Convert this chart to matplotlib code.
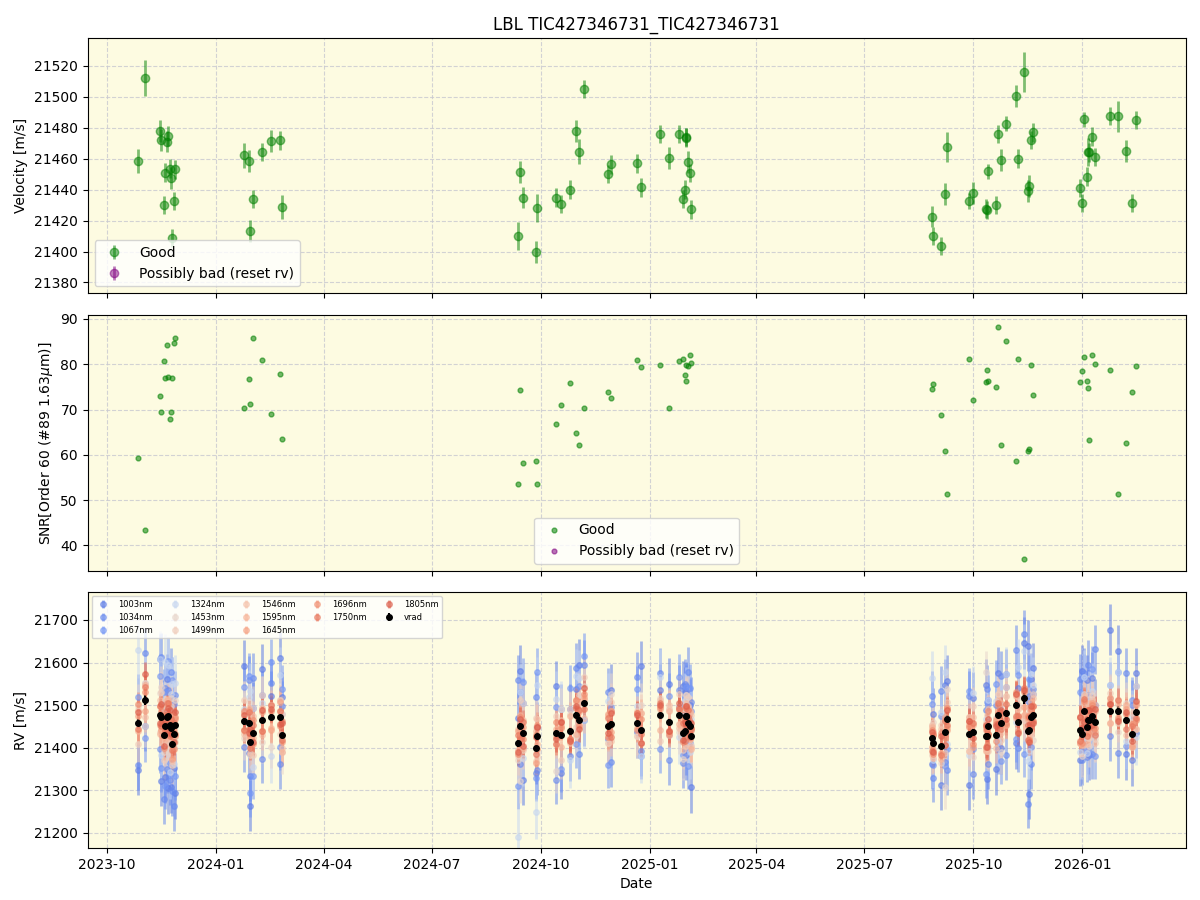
import matplotlib
matplotlib.use("Agg")
import matplotlib.pyplot as plt
import matplotlib.dates as mdates
import numpy as np
import pandas as pd

# epochs (4 observing seasons: 13 + 8 + 25 + 34)
dates = [
    "2023-10-27", "2023-11-02", "2023-11-15", "2023-11-16", "2023-11-18", "2023-11-19",
    "2023-11-21", "2023-11-22", "2023-11-23", "2023-11-24", "2023-11-25", "2023-11-27",
    "2023-11-28",
    "2024-01-25", "2024-01-29", "2024-01-30", "2024-02-01", "2024-02-09", "2024-02-17",
    "2024-02-24", "2024-02-26",
    "2024-09-12", "2024-09-14", "2024-09-16", "2024-09-27", "2024-09-28", "2024-10-14",
    "2024-10-18", "2024-10-26", "2024-10-31", "2024-11-02", "2024-11-07", "2024-11-27",
    "2024-11-29", "2024-12-21", "2024-12-25", "2025-01-10", "2025-01-17", "2025-01-26",
    "2025-01-29", "2025-01-31", "2025-01-31 18:00", "2025-02-01", "2025-02-02",
    "2025-02-04", "2025-02-05",
    "2025-08-27", "2025-08-28", "2025-09-04", "2025-09-07", "2025-09-09", "2025-09-27",
    "2025-10-01", "2025-10-12", "2025-10-12 18:00", "2025-10-13", "2025-10-20",
    "2025-10-22", "2025-10-24", "2025-10-29", "2025-11-06", "2025-11-08", "2025-11-13",
    "2025-11-16", "2025-11-17", "2025-11-19", "2025-11-20", "2025-12-30", "2026-01-01",
    "2026-01-02", "2026-01-05", "2026-01-05 18:00", "2026-01-07", "2026-01-09",
    "2026-01-12", "2026-01-24", "2026-01-31", "2026-02-07", "2026-02-12", "2026-02-15",
]

vrad = [
    21458.5, 21512, 21478, 21472, 21430, 21451, 21471, 21474.4, 21453.5, 21447.3, 21408.8, 21432.6, 21453,
    21462, 21458.5, 21413.4, 21434, 21464.3, 21471.3, 21471.8, 21428.8,
    21410, 21451.3, 21434.8, 21399.5, 21428, 21434.8, 21430.6, 21440, 21477.7, 21464.5, 21505, 21450,
    21456.3, 21457, 21441.4, 21476, 21460.3, 21476, 21434, 21440, 21474, 21473.5, 21458, 21450.6, 21427.3,
    21422.6, 21410, 21403.5, 21437.2, 21467.6, 21432.6, 21437.8, 21427.7, 21426.8, 21451.7, 21430, 21476,
    21459.2, 21482.6, 21500.6, 21460, 21516, 21439, 21442.5, 21472, 21477, 21441.1, 21431.2, 21485.4,
    21448.4, 21464, 21464, 21474.2, 21461, 21487.4, 21487.4, 21465, 21431.2, 21484.8,
]

vrad_err = [
    8, 11.5, 7, 7, 6, 6, 7, 6.5, 6, 7, 6, 6, 6,
    8, 7, 7, 6, 6, 7, 6, 8,
    9, 7, 7, 7, 9, 6, 6, 6, 7, 8, 6, 6, 6, 6, 6, 6, 7, 6, 6, 6, 6, 6, 7, 6, 6,
    7, 6, 6, 7, 9.5, 5, 7, 6, 6, 5, 6, 6, 7, 5, 7, 6, 13, 7, 7, 6, 6, 6, 6, 5, 6, 9, 6, 6, 6, 6, 10, 7, 6, 6,
]

snr = [
    59.3, 43.5, 72.9, 69.4, 80.7, 77.0, 84.3, 77.2, 68.0, 69.4, 77.0, 84.8, 85.7,
    70.3, 76.7, 71.2, 85.7, 81.0, 69.1, 77.8, 63.4,
    53.5, 74.3, 58.2, 58.7, 53.5, 66.9, 70.9, 75.8, 64.9, 62.2, 70.3, 73.8, 72.5, 81.0, 79.4,
    79.9, 70.3, 80.7, 81.2, 77.6, 76.3, 79.9, 79.6, 82.1, 80.3,
    74.5, 75.6, 68.7, 60.9, 51.3, 81.2, 72.0, 76.1, 78.7, 76.3, 74.9, 88.3, 62.2, 85.2, 58.7, 81.2,
    37.0, 60.9, 61.3, 79.9, 73.2, 76.1, 78.5, 81.6, 76.3, 74.7, 63.3, 82.1, 80.1, 78.7, 51.3, 62.5,
    73.8, 79.6,
]

# per-band velocity minus vrad, m/s (read by eye, per season)
wavelengths = [1003, 1034, 1067, 1324, 1453, 1499, 1546, 1595, 1645, 1696, 1750, 1805]
band_err = [60, 58, 55, 65, 50, 45, 35, 32, 30, 28, 28, 30]

off_1003 = ([-110, -60, 130, -150, 70, -120, 90, -170, 40, -140, 110, -80, -160]
            + [130, -70, -150, 60, 120, 50, 140, 90]
            + [60, 130, -110, -60, 20, 110, -90, 50, 60, 130, -40, -30, 80, -20, 150, 60, 90, 20, 110,
               90, 60, -90, 30, 50, -120]
            + [-60, 70, -90, 110, 90, -120, 80, 120, -100, 60, -80, 100, -60, 90, -90, 80, 130, 200,
               -150, 90, 110, -70, 150, -40, 110, 60, -80, 90, 40, 190, 140, -80, -60, 90])
off_1034 = ([-100, 110, -80, 140, -150, 90, -120, 60, -130, 130, -110, -170, 70]
            + [-60, 100, -80, 130, -90, 80, -110, 70]
            + [150, -90, 70, 120, -80, -110, 60, -60, 110, -80, 90, 80, -90, 110, -50, 100, -90, 60, -70,
               110, 70, -80, 120, -40, 80]
            + [100, -80, 130, -70, -120, 90, -100, 60, 110, -90, 70, -80, 110, -100, 130, -60, 150, -170,
               80, -110, 60, 120, -60, 90, -70, 130, 60, -90, 170, -60, -100, 110, 70, -50])
off_1067 = ([60, -90, 90, -120, 100, -140, 60, 130, -90, -110, 150, 70, -120]
            + [80, 110, -120, -100, 60, 130, -70, 110]
            + [-100, 80, 120, -70, 150, 60, -80, 100, -70, 80, 110, -90, 40, 80, -60, -80, 60, 90, -50,
               80, -60, 70, -100, 90, 60]
            + [80, -50, 70, -80, -70, 100, -40, -90, 80, 50, 120, -60, -90, 60, -80, 110, -130, 70, 120,
               -70, 50, 90, -40, 80, 60, -70, 50, 110, -80, 60, 90, -60, 80, 60])
off_1324 = ([170, 40, 130, -90, 60, 150, -60, 120, -110, 80, 140, -70, 100]
            + [30, 60, 120, -80, 40, -90, 100, 50]
            + [-220, 80, -60, -150, 120, 80, 60, -70, 90, 100, -40, 60, 30, 40, -60, 90, -30, -50, 40,
               70, -30, 50, -40, -60, 40]
            + [140, -40, 80, 140, -60, -50, 90, 40, -30, 60, 80, -60, 40, 90, -40, 130, 110, -70, -50,
               100, 70, -50, 40, 80, -60, 40, 50, 60, -30, 60, 90, -50, 40, -60])
off_1453 = ([40, -60, 50, 70, -40, 60, -70, 30, -50, 70, 40, -30, 60]
            + [-40, 50, -30, 60, -50, -70, 40, -40]
            + [-40, -130, 70, 50, -40, -90, 60, 40, -50, 60, 40, -40, 70, -30, 60, 40, 30, -40, -60, 50,
               -70, 40, 60, -30, -20]
            + [30, 50, -40, -130, 70, 40, -60, 150, 30, -50, 40, 50, -70, 40, -30, 60, -50, 40, 50, -40,
               -60, 30, -50, 40, 60, -40, -60, 50, -40, 30, -50, 40, -30, 60])
off_1499 = ([-50, 40, -40, 60, -60, 50, -30, -60, 40, 50, -50, 40, -40]
            + [50, -30, 40, -50, 60, 30, -40, 50]
            + [-30, 60, -40, 70, -50, 40, -60, 50, -30, 40, 60, -40, 50, -30, 40, -60, 30, 50, -40, 30,
               -40, 50, 40, -30, 50]
            + [-40, 30, 50, -50, 40, -40, 60, -30, 50, -60, 40, 50, -40, 60, -30, 40, -50, 30, 40, -40,
               50, -30, 40, -50, 30, 60, -40, 40, -50, 40, -30, 30, 50, -40])
off_1546 = ([30, -40, 35, -30, 40, -35, 25, 40, -30, 30, -40, 35, -25]
            + [-30, 35, -25, 40, -35, 30, 40, -30]
            + [35, -40, 30, -30, 40, -25, 35, -30, 30, 40, -35, 25, -40, 30, -30, 35, 40, -30, 25, -35,
               30, -40, 35, 30, -25]
            + [30, -35, 40, -30, 25, -40, 35, 30, -35, 40, -30, 35, -25, 40, -30, 30, -40, 35, 30, -35,
               40, -30, 25, 35, -40, 30, -30, 35, 40, -30, 25, -35, 30, -40])
off_1595 = ([-20, 35, -45, 25, 15, -30, 40, -15, 30, -40, 20, 10, -25]
            + [20, -35, 45, -10, 30, -25, 15, -40]
            + [-15, 25, -35, 40, -20, 10, -30, 35, -45, 20, 15, -25, 30, -10, 40, -35, 25, -20, 15, 30,
               -40, 20, -15, 35, -30]
            + [25, -15, -30, 35, -20, 40, 15, -35, 20, -25, 30, -10, 45, -30, 20, 15, -40, 25, -20, 35,
               -15, 30, -25, 20, 10, -35, 40, -20, 25, -30, 15, 35, -25, 20])
off_1645 = ([15, -25, 20, -30, 35, 10, -20, 25, -15, 30, -35, 20, 15]
            + [-20, 30, 15, -25, 20, -30, 35, -15]
            + [30, -20, 15, -35, 25, -10, 20, -25, 35, -15, 10, 30, -20, 25, -30, 15, -25, 20, 30, -15,
               25, -20, 10, -30, 20]
            + [-20, 25, -15, 30, -25, 20, -35, 15, 25, -20, 35, -15, 20, -30, 25, 10, -20, 30, -25, 15,
               20, -30, 35, -15, 25, -20, 15, 30, -25, 20, -15, 25, -30, 15])
off_1696 = ([45, 20, -25, 15, -30, 25, 35, -20, 10, -15, 30, -35, 20]
            + [25, -15, 20, 30, -25, 15, -20, 35]
            + [-25, 20, -15, 30, -30, 25, 15, -20, 35, -10, 20, -25, 30, -15, 25, 20, -30, 15, -20, 30,
               -15, 25, -25, 10, 20]
            + [20, -25, 30, -15, 25, 15, -30, 20, -20, 35, -15, 25, 20, -25, 30, -20, 15, 35, -25, 20,
               -15, 30, -20, 25, 15, -30, 20, 25, -15, 30, -20, 15, 25, -20])
off_1750 = ([-15, 30, 20, -20, 25, -10, 15, 30, -25, 20, -15, 25, -20]
            + [-20, 25, -15, 20, -25, 30, 15, -10]
            + [20, -30, 25, -15, 20, -25, 30, -20, 15, 25, -15, 20, -30, 25, -10, 30, -20, 15, 25, -25,
               20, -15, 30, -20, 15]
            + [-30, 20, -20, 25, -15, 30, 20, -25, 15, -20, 25, 30, -15, 20, -25, 15, 25, -20, 30, -15,
               20, -25, 15, 30, -20, 25, -15, 20, -30, 15, 25, -20, 20, -15])
off_1805 = ([25, 60, -20, 30, -25, 15, -30, 20, 35, -15, 25, -20, 30]
            + [15, -25, 30, -20, 25, 20, -15, 30]
            + [-20, 15, -30, 25, 20, -15, 30, -25, 20, -20, 35, -15, 25, 20, -30, 25, -20, 30, -15, 20,
               25, -20, 15, -25, 30]
            + [15, -20, 25, -30, 20, 30, -15, 25, -25, 15, 20, -20, 30, -15, 25, -25, 20, 15, -30, 25,
               -20, 30, 15, -25, 20, -15, 25, -20, 30, 15, -25, 20, -15, 25])

offsets = [off_1003, off_1034, off_1067, off_1324, off_1453, off_1499,
           off_1546, off_1595, off_1645, off_1696, off_1750, off_1805]

t = pd.to_datetime(dates, format="mixed")
vrad = np.array(vrad)
for o in offsets:
    assert len(o) == len(t), len(o)

bg = "#fdfbe1"
fig, axes = plt.subplots(3, 1, figsize=(12, 9), dpi=100, sharex=True)
fig.subplots_adjust(left=0.073, right=0.988, top=0.958, bottom=0.058, hspace=0.085)

for ax in axes:
    ax.set_facecolor(bg)
    ax.grid(True, linestyle="--", color="#c8c8d0", alpha=0.8)
    ax.set_axisbelow(True)

# velocity
ax = axes[0]
ax.errorbar(t, vrad, yerr=vrad_err, fmt="o", color="green", alpha=0.5, ms=6, elinewidth=2,
            label="Good")
ax.errorbar([], [], yerr=[], fmt="o", color="purple", alpha=0.5, ms=6, elinewidth=2,
            label="Possibly bad (reset rv)")
ax.set_ylim(21373, 21538)
ax.set_ylabel("Velocity [m/s]")
ax.set_title("LBL TIC427346731_TIC427346731")
ax.legend(loc="lower left")

# snr
ax = axes[1]
ax.scatter(t, snr, s=12, color="green", alpha=0.55, label="Good")
ax.scatter([], [], s=12, color="purple", alpha=0.55, label="Possibly bad (reset rv)")
ax.set_ylabel(r"SNR[Order 60 (#89 1.63$\mu$m)]")
ax.legend(loc="lower center")

# per band
ax = axes[2]
cmap = plt.get_cmap("coolwarm")
norm = plt.Normalize(880, 1930)
for w, o, e in zip(wavelengths, offsets, band_err):
    ax.errorbar(t, vrad + np.array(o), yerr=e, fmt="o", color=cmap(norm(w)), alpha=0.55,
                ms=4, elinewidth=2, label=f"{w}nm")
ax.errorbar(t, vrad, yerr=vrad_err, fmt="o", color="black", ms=4, elinewidth=1.5, label="vrad")
ax.set_ylim(21165, 21765)
ax.set_ylabel("RV [m/s]")
ax.set_xlabel("Date")
ax.legend(loc="upper left", ncol=5, fontsize=6, columnspacing=1.6)

ax.xaxis.set_major_locator(mdates.MonthLocator(bymonth=[1, 4, 7, 10]))
ax.xaxis.set_major_formatter(mdates.DateFormatter("%Y-%m"))

fig.savefig("out.png")
